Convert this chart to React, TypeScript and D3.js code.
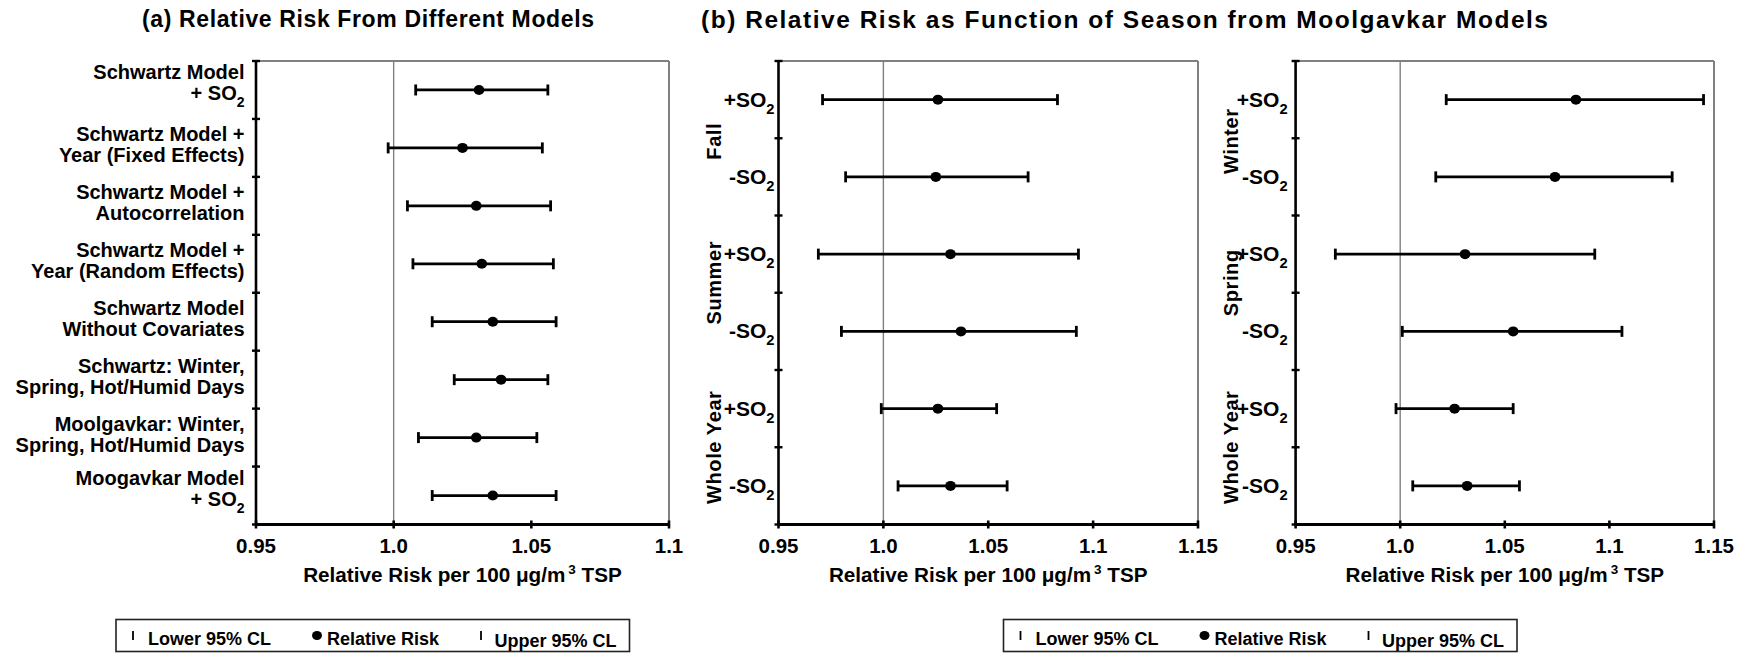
import React from "react";
import * as d3 from "d3";

// ---------- data ----------
const modelLabels: string[][] = [
  ["Schwartz Model", "+ SO_2"],
  ["Schwartz Model +", "Year (Fixed Effects)"],
  ["Schwartz Model +", "Autocorrelation"],
  ["Schwartz Model +", "Year (Random Effects)"],
  ["Schwartz Model", "Without Covariates"],
  ["Schwartz: Winter,", "Spring, Hot/Humid Days"],
  ["Moolgavkar: Winter,", "Spring, Hot/Humid Days"],
  ["Moogavkar Model", "+ SO_2"],
];
const modelLower = [1.008, 0.998, 1.005, 1.007, 1.014, 1.022, 1.009, 1.014];
const modelRR = [1.031, 1.025, 1.03, 1.032, 1.036, 1.039, 1.03, 1.036];
const modelUpper = [1.056, 1.054, 1.057, 1.058, 1.059, 1.056, 1.052, 1.059];

const so2Labels = ["+SO_2", "-SO_2", "+SO_2", "-SO_2", "+SO_2", "-SO_2"];

const seasonsLeft = ["Fall", "Summer", "Whole Year"];
const leftLower = [0.971, 0.982, 0.969, 0.98, 0.999, 1.007];
const leftRR = [1.026, 1.025, 1.032, 1.037, 1.026, 1.032];
const leftUpper = [1.083, 1.069, 1.093, 1.092, 1.054, 1.059];

const seasonsRight = ["Winter", "Spring", "Whole Year"];
const rightLower = [1.022, 1.017, 0.969, 1.001, 0.998, 1.006];
const rightRR = [1.084, 1.074, 1.031, 1.054, 1.026, 1.032];
const rightUpper = [1.145, 1.13, 1.093, 1.106, 1.054, 1.057];

const ticksA = [0.95, 1.0, 1.05, 1.1];
const tickLabelsA = ["0.95", "1.0", "1.05", "1.1"];
const ticksB = [0.95, 1.0, 1.05, 1.1, 1.15];
const tickLabelsB = ["0.95", "1.0", "1.05", "1.1", "1.15"];

const titleA = "(a) Relative Risk From Different Models";
const titleB = "(b) Relative Risk as Function of Season from Moolgavkar Models";
const legendLabels = ["Lower 95% CL", "Relative Risk", "Upper 95% CL"];

// ---------- layout ----------
const W = 1741;
const H = 654;
const FONT = '"Liberation Sans", Arial, Helvetica, sans-serif';
const TOP = 61;
const BOTTOM = 524.5;
const groupNudge = [3, -10, 0];

function SubText({ text, fontSize }: { text: string; fontSize: number }) {
  const i = text.indexOf("_");
  if (i < 0) return <>{text}</>;
  return (
    <>
      <tspan>{text.slice(0, i)}</tspan>
      <tspan dy={7} fontSize={fontSize * 0.7}>
        {text.slice(i + 1)}
      </tspan>
    </>
  );
}

type PanelProps = {
  x0: number;
  x1: number;
  domain: [number, number];
  ticks: number[];
  tickLabels: string[];
  lower: number[];
  rr: number[];
  upper: number[];
};

function Panel({ x0, x1, domain, ticks, tickLabels, lower, rr, upper }: PanelProps) {
  const x = d3.scaleLinear().domain(domain).range([x0, x1]);
  const idx = rr.map((_, i) => i);
  const y = d3.scaleBand<number>().domain(idx).range([TOP, BOTTOM]).paddingInner(0).paddingOuter(0);
  const bw = y.bandwidth();
  const bounds = d3.range(rr.length + 1).map((i) => TOP + i * bw);
  return (
    <g>
      <line x1={x0} x2={x1} y1={TOP} y2={TOP} stroke="#808080" strokeWidth={2.2} />
      <line x1={x1} x2={x1} y1={TOP} y2={BOTTOM} stroke="#808080" strokeWidth={2} />
      <line x1={x(1.0)} x2={x(1.0)} y1={TOP} y2={BOTTOM} stroke="#808080" strokeWidth={1.4} />
      <line x1={x0} x2={x0} y1={TOP - 1} y2={BOTTOM} stroke="#000" strokeWidth={2.6} />
      {bounds.map((b, i) => (
        <line key={i} x1={x0 - 4} x2={x0 + 4} y1={b} y2={b} stroke="#000" strokeWidth={2.4} />
      ))}
      <line x1={x0 - 1} x2={x1 + 1} y1={BOTTOM} y2={BOTTOM} stroke="#000" strokeWidth={3} />
      {ticks.map((t, i) => (
        <g key={i}>
          <line x1={x(t)} x2={x(t)} y1={BOTTOM - 4} y2={BOTTOM + 4} stroke="#000" strokeWidth={2.6} />
          <text x={x(t)} y={553} textAnchor="middle" fontSize={20.5} fontWeight="bold" fontFamily={FONT}>
            {tickLabels[i]}
          </text>
        </g>
      ))}
      <text x={(x0 + x1) / 2} y={581.5} textAnchor="middle" fontSize={20.7} fontWeight="bold" fontFamily={FONT}>
        <tspan>Relative Risk per 100 μg/m</tspan>
        <tspan dy={-8} fontSize={13.5} dx={3}>3</tspan>
        <tspan dy={8}> TSP</tspan>
      </text>
      {idx.map((i) => {
        const cy = (y(i) as number) + bw / 2;
        return (
          <g key={i}>
            <line x1={x(lower[i])} x2={x(upper[i])} y1={cy} y2={cy} stroke="#000" strokeWidth={2.8} />
            <line x1={x(lower[i])} x2={x(lower[i])} y1={cy - 5.5} y2={cy + 5.5} stroke="#000" strokeWidth={2.8} />
            <line x1={x(upper[i])} x2={x(upper[i])} y1={cy - 5.5} y2={cy + 5.5} stroke="#000" strokeWidth={2.8} />
            <ellipse cx={x(rr[i])} cy={cy} rx={5.3} ry={5} fill="#000" />
          </g>
        );
      })}
    </g>
  );
}

function Legend({ left }: { left: number }) {
  const top = 619.5;
  const h = 32;
  const w = 513.5;
  const markY1 = 631;
  const markY2 = 640;
  return (
    <g fontFamily={FONT} fontWeight="bold" fontSize={18}>
      <rect x={left} y={top} width={w} height={h} fill="#fff" stroke="#222" strokeWidth={1.6} />
      <line x1={left + 17} x2={left + 17} y1={markY1} y2={markY2} stroke="#000" strokeWidth={1.8} />
      <text x={left + 32} y={645}>{legendLabels[0]}</text>
      <ellipse cx={left + 201} cy={635.5} rx={5} ry={4.5} fill="#000" />
      <text x={left + 211} y={645}>{legendLabels[1]}</text>
      <line x1={left + 365} x2={left + 365} y1={markY1} y2={markY2} stroke="#000" strokeWidth={1.8} />
      <text x={left + 378.5} y={646.5}>{legendLabels[2]}</text>
    </g>
  );
}

export default function App() {
  const ax0 = 256;
  const ax1 = 669;
  const bwA = (BOTTOM - TOP) / modelLabels.length;
  const bL0 = 778.5;
  const bL1 = 1198;
  const bR0 = 1295.6;
  const bR1 = 1714;
  const bwB = (BOTTOM - TOP) / so2Labels.length;

  return (
    <svg
      width={W}
      height={H}
      viewBox={`0 0 ${W} ${H}`}
      style={{ position: "absolute", left: 0, top: 0, background: "#fff" }}
    >
      <rect width={W} height={H} fill="#fff" />
      <text x={142} y={27} fontSize={23} fontWeight="bold" fontFamily={FONT} textLength={452} lengthAdjust="spacing">
        {titleA}
      </text>
      <text x={701} y={27.5} fontSize={24.5} fontWeight="bold" fontFamily={FONT} textLength={847} lengthAdjust="spacing">
        {titleB}
      </text>

      <Panel x0={ax0} x1={ax1} domain={[0.95, 1.1]} ticks={ticksA} tickLabels={tickLabelsA}
        lower={modelLower} rr={modelRR} upper={modelUpper} />
      {modelLabels.map((lines, i) => {
        const c = TOP + (i + 0.5) * bwA;
        const hasSub = lines[1].includes("_");
        const base = hasSub ? c - 11 : c - 7;
        return (
          <text key={i} textAnchor="end" fontSize={20} fontWeight="bold" fontFamily={FONT}>
            <tspan x={ax0 - 11.5} y={base}>{lines[0]}</tspan>
            <tspan x={ax0 - 11.5} y={base + 21}>
              <SubText text={lines[1]} fontSize={20} />
            </tspan>
          </text>
        );
      })}

      <Panel x0={bL0} x1={bL1} domain={[0.95, 1.15]} ticks={ticksB} tickLabels={tickLabelsB}
        lower={leftLower} rr={leftRR} upper={leftUpper} />
      <Panel x0={bR0} x1={bR1} domain={[0.95, 1.15]} ticks={ticksB} tickLabels={tickLabelsB}
        lower={rightLower} rr={rightRR} upper={rightUpper} />
      {[{ x0: bL0, gap: 4, groups: seasonsLeft }, { x0: bR0, gap: 8, groups: seasonsRight }].map((p, k) => (
        <g key={k} fontWeight="bold" fontFamily={FONT}>
          {so2Labels.map((s, i) => {
            const c = TOP + (i + 0.5) * bwB;
            return (
              <text key={i} x={p.x0 - p.gap} y={c + 7} textAnchor="end" fontSize={21}>
                <SubText text={s} fontSize={21} />
              </text>
            );
          })}
          {p.groups.map((g, j) => {
            const c = TOP + (2 * j + 1) * bwB + groupNudge[j];
            return (
              <text key={g} transform={`translate(${p.x0 - 58},${c}) rotate(-90)`} textAnchor="middle"
                fontSize={20} letterSpacing={0.6}>
                {g}
              </text>
            );
          })}
        </g>
      ))}

      <Legend left={116} />
      <Legend left={1003.5} />
    </svg>
  );
}
